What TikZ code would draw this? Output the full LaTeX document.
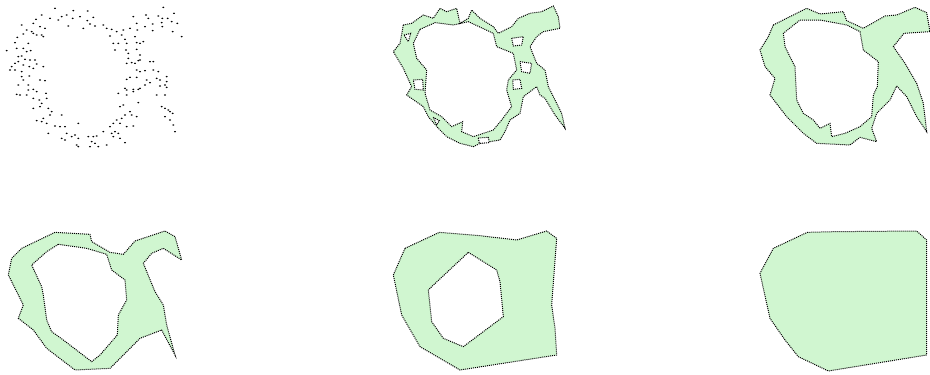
\documentclass[tikz,border=0pt]{standalone}
\begin{document}
\begin{tikzpicture}[x=1pt,y=-1pt,
  region/.style={fill=lgreen, even odd rule, draw=black, line width=1pt, dash pattern=on 1pt off 1pt},
  hole/.style={fill=white, draw=black, line width=1pt, dash pattern=on 1pt off 1pt}]
\definecolor{lgreen}{RGB}{208,246,208}
\useasboundingbox[fill=white] (0,0) rectangle (930,375);

% Panel 1: point cloud
\begin{scope}[shift={(0,0)},scale=1/3]
\foreach \a/\b in {165/25,220/32,263/33,490/22,522/40,125/45,108/58,150/55,185/50,200/45,218/55,240/50,262/62,280/52,400/50,438/45,445/55,475/48,487/55,503/55,515/65,532/70,410/70,435/80,458/72,485/68,65/75,80/90,100/70,120/80,135/85,175/60,205/78,250/85,270/72,285/78,310/75,320/85,335/88,350/95,370/90,390/85,412/90,458/92,487/80,518/95,545/110,
100/100,95/95,110/105,52/112,70/102,125/105,130/110,85/130,45/128,20/152,50/145,70/145,80/155,92/152,340/130,355/130,375/118,380/130,410/128,420/130,430/125,405/110,365/105,330/108,345/150,378/150,385/160,410/148,420/165,
55/170,65/168,75/178,55/185,45/190,35/200,30/210,45/210,65/215,90/180,105/180,110/192,130/200,100/205,88/200,70/195,385/175,395/188,380/190,405/190,415/182,420/180,450/185,460/185,410/210,420/215,435/212,460/210,475/215,500/230,
65/230,70/240,88/228,120/240,135/242,55/255,85/255,100/268,85/270,110/275,50/283,60/285,80/285,100/295,118/300,380/238,390/232,410/232,440/240,450/248,470/235,480/240,500/245,495/255,375/265,380/270,400/268,415/268,420/265,435/255,480/258,500/262,470/285,495/285,355/280,380/285,400/275,
138/280,140/295,125/310,120/320,100/325,145/325,155/335,150/345,185/345,130/355,110/362,125/365,140/370,360/320,370/315,415/308,390/335,395/345,410/350,485/320,495/325,505/330,510/335,518/340,495/350,510/360,365/355,375/345,350/360,360/370,340/370,330/380,345/395,355/400,380/380,400/378,520/375,525/395,
165/378,180/380,195/380,235/370,145/400,200/400,215/410,225/405,235/415,185/415,195/420,230/435,235/440,265/410,280/410,290/408,275/425,285/430,270/440,295/440,320/435,310/395,335/400,340/410,360/415,375/428}
  \fill[black] (\a,\b) ellipse (3.3 and 2.4);
\end{scope}

% Panel 2
\begin{scope}[shift={(380,0)},scale=1/3]
\path[region] (70,75)--(95,70)--(130,45)--(160,55)--(180,25)--(200,35)--(230,25)--(240,70)--(265,55)--(275,30)--(300,55)--(340,80)--(355,100)--(395,80)--(415,55)--(450,40)--(485,35)--(520,18)--(535,50)--(540,85)--(490,95)--(470,110)--(450,140)--(470,190)--(495,210)--(505,260)--(520,290)--(545,340)--(555,385)--(525,345)--(495,295)--(480,285)--(470,260)--(430,290)--(420,340)--(390,360)--(375,395)--(360,420)--(300,430)--(280,440)--(240,430)--(200,410)--(175,385)--(145,350)--(130,320)--(80,285)--(95,260)--(70,205)--(40,155)--(60,130)--cycle
 (120,88)--(165,68)--(220,75)--(265,65)--(340,100)--(350,140)--(400,160)--(410,210)--(385,240)--(380,270)--(395,320)--(365,360)--(340,390)--(280,410)--(245,395)--(248,365)--(215,380)--(185,350)--(150,330)--(135,280)--(140,210)--(110,175)--(100,130)--cycle;
\path[hole] (100,240)--(128,238)--(130,270)--(105,268)--cycle;
\path[hole] (398,240)--(420,238)--(425,265)--(400,268)--cycle;
\path[hole] (420,185)--(455,190)--(450,220)--(425,215)--cycle;
\path[hole] (295,414)--(325,412)--(328,428)--(298,430)--cycle;
\path[hole] (160,352)--(178,362)--(170,375)--cycle;
\path[hole] (72,105)--(92,100)--(85,125)--cycle;
\path[hole] (395,115)--(430,110)--(425,135)--(400,138)--cycle;
\end{scope}

% Panel 3
\begin{scope}[shift={(750,0)},scale=1/3]
\path[region] (70,75)--(170,25)--(210,42)--(280,35)--(290,62)--(340,85)--(405,48)--(440,45)--(495,22)--(530,38)--(540,95)--(462,100)--(430,140)--(465,190)--(500,250)--(520,310)--(530,395)--(500,350)--(470,290)--(440,258)--(420,300)--(380,340)--(365,385)--(380,425)--(330,412)--(300,435)--(200,430)--(160,400)--(110,350)--(60,285)--(75,235)--(45,200)--(30,150)--(55,110)--cycle
 (150,60)--(210,60)--(290,75)--(330,95)--(340,150)--(385,185)--(382,260)--(370,285)--(365,350)--(330,380)--(285,400)--(245,410)--(240,370)--(210,385)--(190,360)--(160,340)--(140,300)--(135,200)--(105,140)--(100,100)--cycle;
\end{scope}

% Panel 4
\begin{scope}[shift={(0,215)},scale=1/3]
\path[region] (65,100)--(165,52)--(270,58)--(275,80)--(330,112)--(370,118)--(405,78)--(495,48)--(525,65)--(545,135)--(490,100)--(455,115)--(430,145)--(465,230)--(490,270)--(500,330)--(525,420)--(485,345)--(420,370)--(330,460)--(225,465)--(140,400)--(100,345)--(55,310)--(70,270)--(25,180)--(35,130)--cycle
 (175,88)--(260,100)--(320,118)--(335,165)--(375,195)--(380,255)--(355,300)--(352,360)--(300,420)--(275,440)--(190,375)--(155,350)--(140,315)--(130,240)--(125,215)--(95,150)--(140,110)--cycle;
\end{scope}

% Panel 5
\begin{scope}[shift={(380,215)},scale=1/3]
\path[region] (75,100)--(178,52)--(300,62)--(410,75)--(500,48)--(530,70)--(515,270)--(525,340)--(530,420)--(240,465)--(120,395)--(65,300)--(40,180)--cycle
 (265,112)--(350,165)--(360,200)--(370,305)--(250,395)--(190,370)--(155,320)--(145,225)--(155,215)--cycle;
\end{scope}

% Panel 6
\begin{scope}[shift={(750,215)},scale=1/3]
\path[region] (172,52)--(255,50)--(500,48)--(530,75)--(530,420)--(235,468)--(145,425)--(105,375)--(60,310)--(30,175)--(70,100)--cycle;
\end{scope}
\end{tikzpicture}
\end{document}
